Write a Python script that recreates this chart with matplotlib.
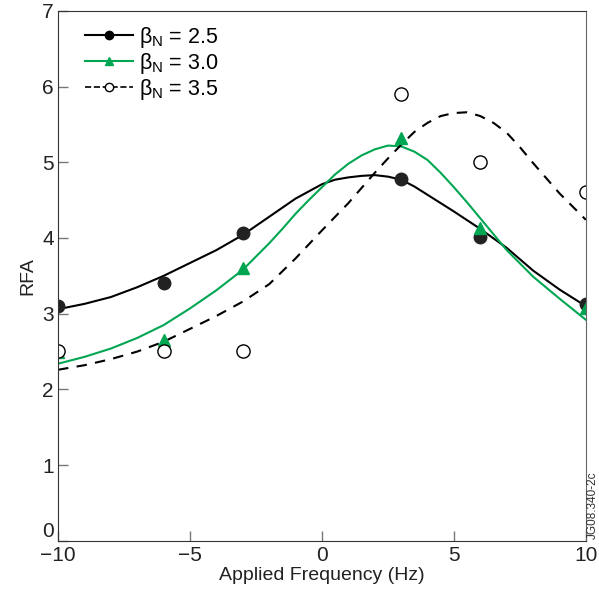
import numpy as np
import matplotlib
matplotlib.use('Agg')
import matplotlib.pyplot as plt

plt.rcParams['font.family'] = ['Liberation Sans', 'DejaVu Sans']
plt.rcParams['mathtext.fontset'] = 'custom'
plt.rcParams['mathtext.rm'] = 'Liberation Sans'
plt.rcParams['mathtext.it'] = 'Liberation Sans'

# measured points
freq = [-10, -6, -3, 3, 6, 10]
rfa_25 = [3.10, 3.41, 4.06, 4.78, 4.01, 3.13]
rfa_30 = [2.49, 2.65, 3.60, 5.32, 4.13, 3.07]
rfa_35 = [2.51, 2.51, 2.51, 5.90, 5.00, 4.61]

# fitted curves (1 Hz steps, 0.5 Hz near the peaks)
fit_freq_25 = [-10, -9, -8, -7, -6, -5, -4, -3, -2, -1, 0, 0.5, 1, 1.5, 2, 2.5,
               3, 3.5, 4, 4.5, 5, 6, 7, 8, 9, 10]
fit_25 = [3.06, 3.13, 3.22, 3.35, 3.50, 3.67, 3.84, 4.04, 4.28, 4.52, 4.71, 4.77,
          4.80, 4.82, 4.83, 4.81, 4.77, 4.68, 4.57, 4.46, 4.35, 4.12, 3.87,
          3.57, 3.32, 3.10]
fit_freq_30 = [-10, -9, -8, -7, -6, -5, -4, -3, -2, -1.5, -1, -0.5, 0, 0.5, 1,
               1.5, 2, 2.5, 3, 3.5, 4, 4.5, 5, 5.5, 6, 7, 8, 9, 10]
fit_30 = [2.34, 2.43, 2.54, 2.68, 2.85, 3.07, 3.31, 3.58, 3.93, 4.12, 4.32, 4.50,
          4.67, 4.84, 4.98, 5.09, 5.17, 5.22, 5.21, 5.14, 5.03, 4.86, 4.67,
          4.47, 4.26, 3.84, 3.49, 3.20, 2.92]
fit_freq_35 = [-10, -9, -8, -7, -6, -5, -4, -3, -2, -1, 0, 1, 1.5, 2, 2.5, 3,
               3.5, 4, 4.5, 5, 5.5, 6, 6.5, 7, 7.5, 8, 9, 10]
fit_35 = [2.26, 2.32, 2.40, 2.50, 2.63, 2.80, 2.97, 3.16, 3.39, 3.73, 4.10, 4.46,
          4.66, 4.86, 5.05, 5.23, 5.40, 5.52, 5.61, 5.65, 5.66, 5.61, 5.52,
          5.39, 5.20, 4.99, 4.59, 4.24]

green = '#00a651'

fig = plt.figure(figsize=(5.99, 5.99), dpi=100)
ax = fig.add_axes([0.097, 0.097, 0.881, 0.885])

ax.plot(fit_freq_25, fit_25, color='black', lw=1.5)
ax.plot(fit_freq_30, fit_30, color=green, lw=1.5)
ax.plot(fit_freq_35, fit_35, color='black', lw=1.5, ls=(0, (5, 4)))

ax.plot(freq, rfa_25, 'o', color='#222222', ms=9)
ax.plot(freq, rfa_30, '^', color=green, ms=8)
ax.plot(freq, rfa_35, 'o', mfc='white', mec='black', mew=1.0, ms=9.5)

# legend proxies
ax.plot([], [], '-o', color='black', ms=6, lw=1.5, label=r'$\beta_\mathrm{N}$ = 2.5')
ax.plot([], [], '-^', color=green, ms=6, lw=1.5, label=r'$\beta_\mathrm{N}$ = 3.0')
ax.plot([], [], '--o', color='black', mfc='white', ms=6, lw=1.2, label=r'$\beta_\mathrm{N}$ = 3.5')
handles, labels = ax.get_legend_handles_labels()
ax.legend(handles[-3:], labels[-3:], loc='upper left', bbox_to_anchor=(0.015, 1.01),
          frameon=False, fontsize=15.5, handlelength=2.2, labelspacing=0.05,
          handletextpad=0.3)

ax.set_xlim(-10, 10)
ax.set_ylim(0, 7)
ax.set_xticks([-10, -5, 0, 5, 10])
ax.set_xticklabels(['\u221210', '\u22125', '0', '5', '10'])
ax.set_yticks(range(0, 8))
ax.tick_params(direction='in', length=7, width=1, color='#777777',
               labelsize=15, pad=3, labelcolor='#222222')
ax.tick_params(axis='x', pad=4)
ylabels = ax.get_yticklabels()
for lbl in ylabels:
    lbl.set_verticalalignment('center_baseline')
ylabels[0].set_verticalalignment('bottom')

for side in ['left', 'bottom', 'top']:
    ax.spines[side].set_color('#333333')
ax.spines['right'].set_color('#666666')

ax.set_xlabel('Applied Frequency (Hz)', fontsize=14, color='#222222', labelpad=1)
ax.set_ylabel('RFA', fontsize=14, color='#222222', labelpad=4)

fig.text(0.989, 0.1, 'JG08.340-2c', rotation=90, fontsize=8.5, ha='center',
         va='bottom', color='#333333')

plt.savefig('out.png', dpi=100)
